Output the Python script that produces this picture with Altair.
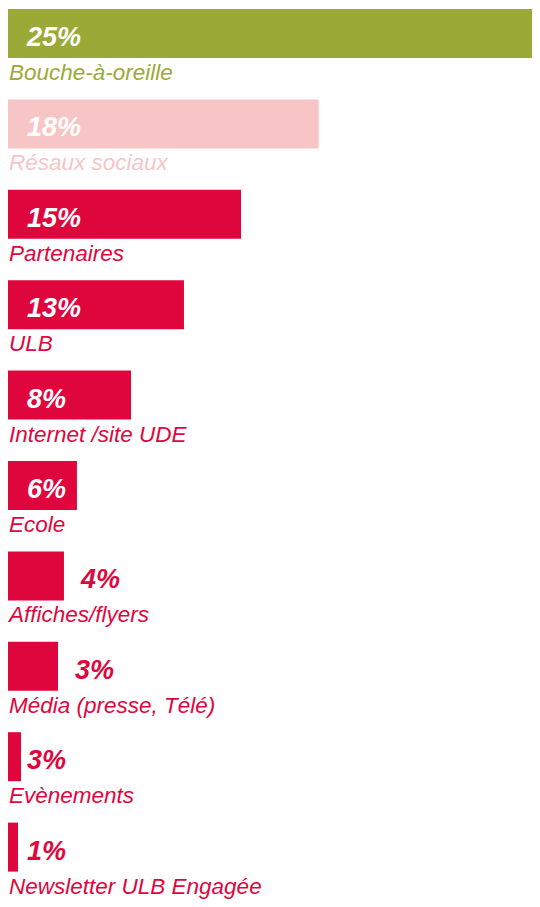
import altair as alt
import pandas as pd

# ---- data ----
categories = [
    "Bouche-à-oreille",
    "Résaux sociaux",
    "Partenaires",
    "ULB",
    "Internet /site UDE",
    "Ecole",
    "Affiches/flyers",
    "Média (presse, Télé)",
    "Evènements",
    "Newsletter ULB Engagée",
]
bar_values = [25.0, 14.6, 10.95, 8.27, 5.78, 3.24, 2.63, 2.35, 0.61, 0.47]
pct_labels = ["25%", "18%", "15%", "13%", "8%", "6%", "4%", "3%", "3%", "1%"]

# ---- styling / layout ----
GREEN = "#9BAA36"
PINK = "#F7C5C6"
RED = "#DF063E"
bar_colors = [GREEN, PINK] + [RED] * 8
FONT = "Liberation Sans"

W = 524           # plot width (px)
H = 891           # plot height (px)
PX = 532 / 25.0   # px per percent unit
STEP = 90.4       # px per row
TOP = 1.0         # px above first bar
BAR_H = 49.0
LABEL_OFF = 71.0
PCT_OFF = 37.0

df = pd.DataFrame({"cat": categories, "value": bar_values, "pct": pct_labels})

x_scale = alt.Scale(domain=[0, W / PX], nice=False, zero=True)
y_scale = alt.Scale(
    domain=[-TOP / STEP, (H - TOP) / STEP], nice=False, zero=False, reverse=True
)
color_enc = alt.Color(
    "cat:N", scale=alt.Scale(domain=categories, range=bar_colors), legend=None
)

base = (
    alt.Chart(df)
    .transform_window(rn="row_number()")
    .transform_calculate(
        r="datum.rn - 1",
        ybot=f"datum.rn - 1 + {BAR_H / STEP}",
        ylab=f"datum.rn - 1 + {LABEL_OFF / STEP}",
        ypct=f"datum.rn - 1 + {PCT_OFF / STEP}",
        lx=f"datum.value >= 3 ? {19 / PX} : (datum.value >= 2 ? datum.value + {17 / PX} : {19 / PX})",
    )
)

bars = base.mark_bar().encode(
    x=alt.X("value:Q", axis=None, scale=x_scale),
    x2=alt.datum(0),
    y=alt.Y("r:Q", axis=None, scale=y_scale),
    y2="ybot:Q",
    color=color_enc,
)

cat_text = base.mark_text(
    align="left",
    baseline="alphabetic",
    font=FONT,
    fontStyle="italic",
    fontSize=22.5,
).encode(
    x=alt.value(1),
    y=alt.Y("ylab:Q", axis=None, scale=y_scale),
    text="cat:N",
    color=color_enc,
)

pct_text = base.mark_text(
    align="left",
    baseline="alphabetic",
    font=FONT,
    fontStyle="italic",
    fontWeight="bold",
    fontSize=27,
).encode(
    x=alt.X("lx:Q", axis=None, scale=x_scale),
    y=alt.Y("ypct:Q", axis=None, scale=y_scale),
    text="pct:N",
    color=alt.condition(alt.datum.value >= 3, alt.value("white"), alt.value(RED)),
)

chart = (
    alt.layer(bars, cat_text, pct_text)
    .properties(width=W, height=H, padding=0, autosize=alt.AutoSizeParams(type="none"))
    .configure_view(stroke=None)
)

chart.save("out.html", embed_options={"renderer": "svg", "actions": False})
